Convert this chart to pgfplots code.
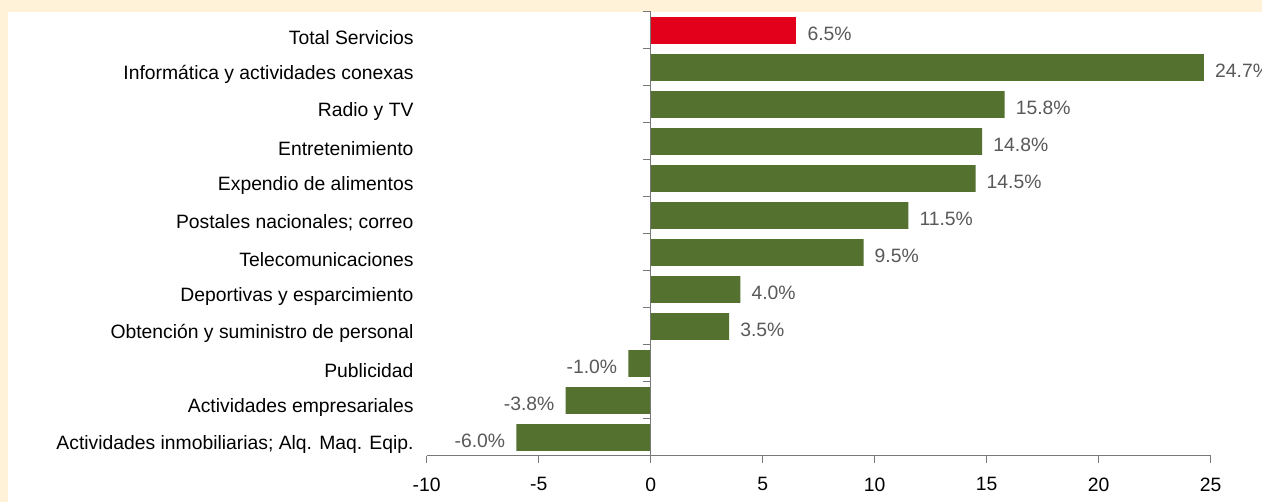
\documentclass[border=0pt]{standalone}
\usepackage{pgfplots}
\pgfplotsset{compat=1.18}
\usepackage{fontspec}
\setmainfont{Liberation Sans}
\definecolor{cream}{RGB}{255,242,217}
\definecolor{bargreen}{RGB}{84,113,48}
\definecolor{barred}{RGB}{226,0,26}
\definecolor{axisgray}{RGB}{120,120,120}
\definecolor{labgray}{RGB}{89,89,89}
\begin{document}
\begin{tikzpicture}[x=1bp,y=1bp]
\useasboundingbox (0,0) rectangle (1262,502);
\fill[cream] (0,0) rectangle (1262,502);
\fill[white] (7.5,0) rectangle (1262,490);
\begin{axis}[
  at={(426.7bp,46bp)}, anchor=south west,
  scale only axis, width=784bp, height=444bp,
  xmin=-10, xmax=25, ymin=0.5, ymax=12.5,
  xbar, bar width=26.7bp, bar shift=0pt,
  clip=false,
  separate axis lines,
  axis x line*=bottom, axis y line*=left,
  x axis line style={axisgray, line width=1pt, -},
  y axis line style={draw=none, -},
  xtick={-10,-5,...,25},
  ytick={1,...,12},
  yticklabels={Actividades inmobiliarias; Alq. Maq. Eqip.,Actividades empresariales,Publicidad,Obtención y suministro de personal,Deportivas y esparcimiento,Telecomunicaciones,Postales nacionales; correo,Expendio de alimentos,Entretenimiento,Radio y TV,Informática y actividades conexas,Total Servicios},
  tick align=outside,
  major tick length=7bp,
  x tick style={axisgray, line width=1pt},
  y tick style={draw=none},
  /pgf/number format/assume math mode=true,
  tick label style={font=\fontsize{19.4}{22}\selectfont, black},
  xticklabel style={yshift=-11bp},
  yticklabel style={anchor=east, inner sep=0pt, xshift=-6bp, yshift=-7bp},
  point meta=x,
  nodes near coords={\pgfmathprintnumber[fixed,fixed zerofill,precision=1,assume math mode=true]{\pgfplotspointmeta}\%},
  nodes near coords align={horizontal},
  every node near coord/.append style={font=\fontsize{19.4}{22}\selectfont, text=labgray, inner sep=11bp, yshift=-3bp},
]
\addplot[fill=bargreen, draw=none] coordinates {
(-6.0,1) (-3.8,2) (-1.0,3) (3.5,4) (4.0,5) (9.5,6) (11.5,7) (14.5,8) (14.8,9) (15.8,10) (24.7,11)
};
\addplot[fill=barred, draw=none] coordinates {(6.5,12)};
\draw[axisgray, line width=1pt] (axis cs:0,0.5) -- (axis cs:0,12.5);
\pgfplotsinvokeforeach{1.5,2.5,3.5,4.5,5.5,6.5,7.5,8.5,9.5,10.5,11.5,12.5}{
  \draw[axisgray, line width=1pt] (axis cs:0,#1) -- ([xshift=-8bp]axis cs:0,#1);
}
\end{axis}
\end{tikzpicture}
\end{document}
